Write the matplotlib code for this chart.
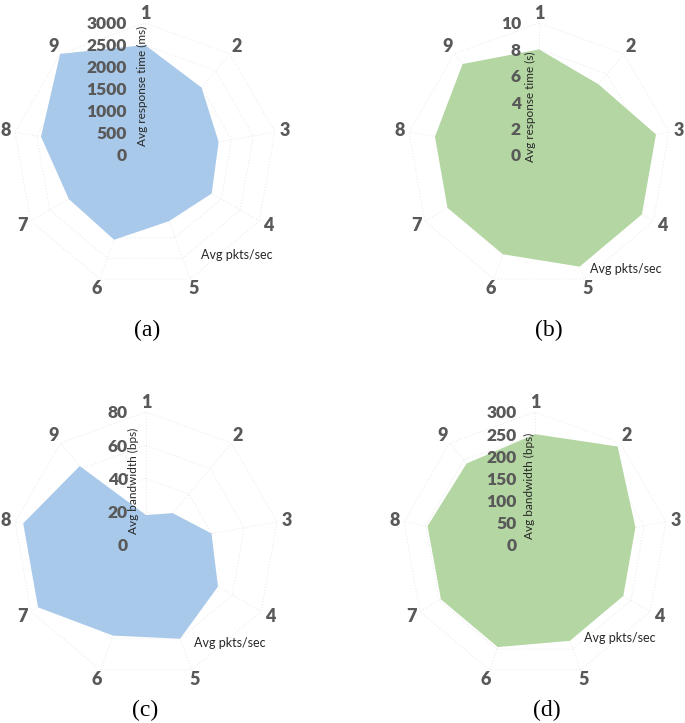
import numpy as np
import matplotlib
matplotlib.use('Agg')
import matplotlib.pyplot as plt

W, H = 685, 723

categories = ['1', '2', '3', '4', '5', '6', '7', '8', '9']

# (a) average response time in ms
resp_ms = [2500, 2000, 1700, 1750, 1600, 2050, 2000, 2400, 3000]
resp_ms_ticks = [0, 500, 1000, 1500, 2000, 2500, 3000]

# (b) average response time in s
resp_s = [8, 7, 9, 9, 9, 8, 8, 8, 9]
resp_s_ticks = [0, 2, 4, 6, 8, 10]

# (c) average bandwidth
bw_c = [18, 25, 40, 50, 60, 58, 75, 75, 62]
bw_c_ticks = [0, 20, 40, 60, 80]

# (d) average bandwidth
bw_d = [250, 290, 230, 230, 230, 245, 245, 246, 240]
bw_d_ticks = [0, 50, 100, 150, 200, 250, 300]

blue = '#A9C9EA'
green = '#B3D6A2'
grey = '#595959'
sans = ['Lato', 'DejaVu Sans']

fig = plt.figure(figsize=(W / 100, H / 100), dpi=100)


def radar(cx, cy, R, values, ticks, color, title, title_xy, pkts_xy, caption, cap_xy):
    ax = fig.add_axes([(cx - R) / W, 1 - (cy + R) / H, 2 * R / W, 2 * R / H],
                      projection='polar')
    ax.set_theta_zero_location('N')
    ax.set_theta_direction(-1)
    ax.set_ylim(0, ticks[-1])
    ax.set_axis_off()

    ang = np.arange(len(categories)) * 2 * np.pi / len(categories)
    closed = np.append(ang, ang[0])

    # faint dotted polygon grid + spokes
    for t in ticks[1:]:
        ax.plot(closed, [t] * len(closed), ls=(0, (1, 2)), color='#E8E8E8', lw=0.7)
    for a in ang:
        ax.plot([a, a], [0, ticks[-1]], ls=(0, (1, 2)), color='#E8E8E8', lw=0.7)

    ax.fill(closed, np.append(values, values[0]), color=color, lw=0, zorder=3)

    for t in ticks:
        ax.annotate(str(t), xy=(0, t), xytext=(-13, -1), textcoords='offset points',
                    ha='right', va='center', fontsize=12.5, fontweight='heavy',
                    color=grey, family=sans, zorder=5)

    for a, c in zip(ang, categories):
        ax.text(a, ticks[-1] * 1.075, c, ha='center', va='center', fontsize=13,
                fontweight='heavy', color=grey, family=sans)

    fig.text(title_xy[0] / W, 1 - title_xy[1] / H, title, rotation=90,
             ha='center', va='center', fontsize=8.5, color='#262626', family=sans,
             zorder=6)
    fig.text(pkts_xy[0] / W, 1 - pkts_xy[1] / H, 'Avg pkts/sec', ha='center',
             va='center', fontsize=9, color='#262626', family=sans)
    fig.text(cap_xy[0] / W, 1 - cap_xy[1] / H, caption, ha='center', va='center',
             fontsize=17, family=['Liberation Serif', 'DejaVu Serif'])
    return ax


radar(145, 155, 132, resp_ms, resp_ms_ticks, blue, 'Avg response time (ms)',
      (142, 86), (237, 255), '(a)', (147, 330))
radar(539, 155, 132, resp_s, resp_s_ticks, green, 'Avg response time (s)',
      (530, 107), (626, 269), '(b)', (549, 330))
radar(146, 545, 133, bw_c, bw_c_ticks, blue, 'Avg bandwidth (bps)',
      (133, 481), (230, 643), '(c)', (145, 710))
radar(535, 545, 133, bw_d, bw_d_ticks, green, 'Avg bandwidth (bps)',
      (529, 486), (620, 638), '(d)', (547, 710))

fig.savefig('out.png', dpi=100, facecolor='white')
